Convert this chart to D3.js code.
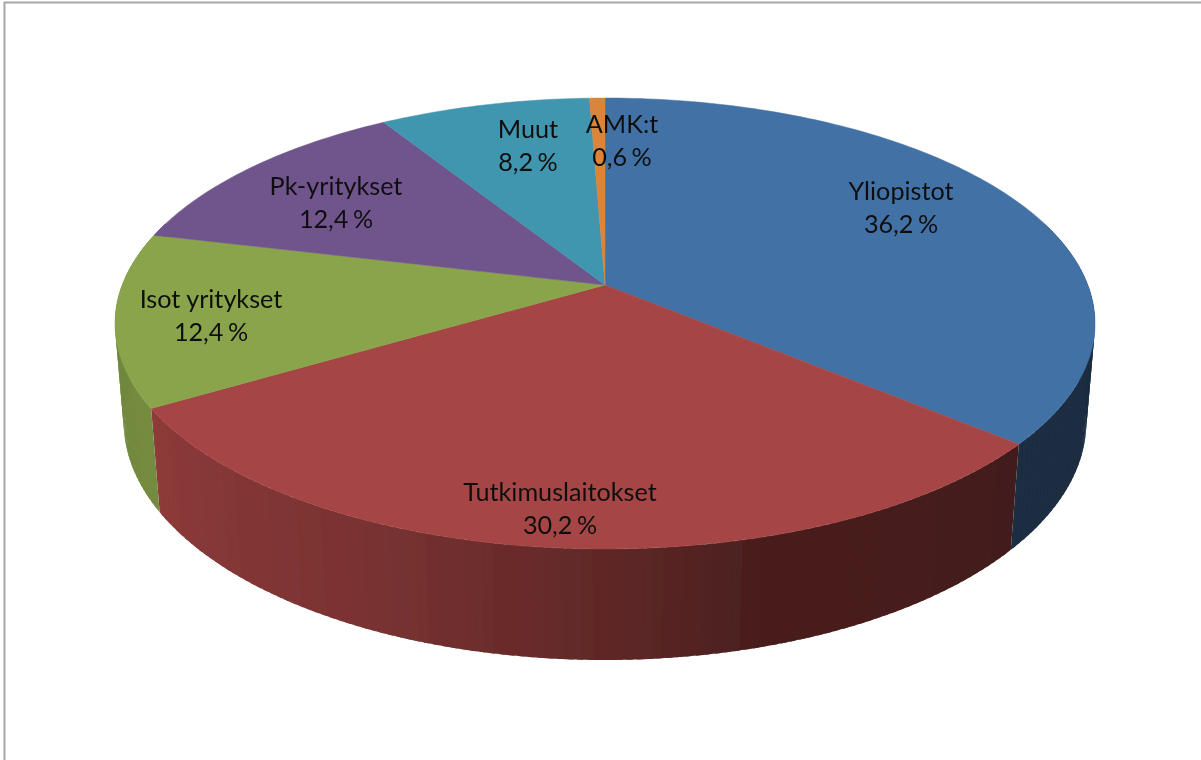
<!DOCTYPE html>
<html>
<head>
<meta charset="utf-8">
<script src="https://d3js.org/d3.v7.min.js"></script>
<style>
html, body { margin: 0; padding: 0; background: #fff; }
svg { display: block; }
text { font-family: Lato, "Open Sans", sans-serif; font-size: 25.2px; fill: #111; text-anchor: middle; }
.pct { word-spacing: -2px; }
</style>
</head>
<body>
<div id="canvas"></div>
<script>
var categories = ["Yliopistot", "Tutkimuslaitokset", "Isot yritykset", "Pk-yritykset", "Muut", "AMK:t"];
var shares = [36.2, 30.2, 12.4, 12.4, 8.2, 0.6];
var colors = ["#4371a6", "#a64544", "#89a44b", "#70558c", "#3f96ae", "#d9853a"];
// label centres, placed by hand like the original
var labelX = [901, 560, 211, 336, 528, 622];
var labelY = [200, 501, 308, 195, 138, 133];

var width = 1201, height = 760;
var cx = 605, cy = 285;
var rx = 482.8, ry = 218.9, persp = 0.1707; // top face of the disc
var depth = 98.6, perspDepth = 0.0175;      // side wall

// angle from 12 o'clock, h = 0 top face, h = 1 bottom rim
function project(a, h) {
    var u = Math.sin(a), v = -Math.cos(a);
    var w = 1 - persp * v + perspDepth * h;
    return [cx + rx * u / w, cy + (ry * v + depth * h) / w];
}

// how much the wall darkens, going round from right to left
var shade = d3.scaleLinear()
    .domain([90, 130, 165, 180, 205, 239, 270])
    .range([0.40, 0.40, 0.45, 0.58, 0.73, 0.85, 0.82])
    .clamp(true);

var svg = d3.select("#canvas").append("svg")
    .attr("width", width)
    .attr("height", height);

var defs = svg.append("defs");
defs.append("filter").attr("id", "soft")
    .attr("x", "-5%").attr("y", "-5%").attr("width", "110%").attr("height", "110%")
    .append("feGaussianBlur").attr("stdDeviation", 0.5);

svg.append("path")
    .attr("d", "M4.5 " + height + "V2.5H" + width)
    .attr("fill", "none")
    .attr("stroke", "#a6a6a6")
    .attr("stroke-width", 2);

var pie = d3.pie().sort(null).value(function(d) { return d; });
var slices = pie(shares);
var line = d3.line();
var step = Math.PI / 180;

function arcPoints(a0, a1, h) {
    var n = Math.max(2, Math.ceil((a1 - a0) / step));
    return d3.range(n + 1).map(function(i) {
        return project(a0 + (a1 - a0) * i / n, h);
    });
}

var chart = svg.append("g").attr("filter", "url(#soft)");

// side wall, narrow strips so the shading runs round the rim.
// each strip runs a bit past its end and the next one paints over that, no seams
var walls = chart.append("g");
slices.forEach(function(s, i) {
    var a0 = Math.max(s.startAngle, Math.PI / 2 - 0.3);
    var a1 = Math.min(s.endAngle, 3 * Math.PI / 2 + 0.3);
    if (a1 <= a0) return;
    var n = Math.ceil((a1 - a0) / step);
    d3.range(n).forEach(function(k) {
        var b0 = a0 + (a1 - a0) * k / n, b1 = a0 + (a1 - a0) * (k + 1) / n;
        var mid = (b0 + b1) / 2 * 180 / Math.PI;
        var c = d3.rgb(colors[i]);
        var f = shade(mid);
        var end = k < n - 1 ? b1 + step * 0.6 : b1;
        walls.append("path")
            .attr("d", line(arcPoints(b0, end, 0).concat(arcPoints(b0, end, 1).reverse())) + "Z")
            .attr("fill", d3.rgb(c.r * f, c.g * f, c.b * f).formatHex());
    });
});

// top face
chart.append("g").selectAll("path")
    .data(slices)
    .join("path")
    .attr("fill", function(d, i) { return colors[i]; })
    .attr("stroke", function(d, i) { return colors[i]; })
    .attr("stroke-width", 0.5)
    .attr("d", function(d) {
        return line([[cx, cy]].concat(arcPoints(d.startAngle, d.endAngle, 0))) + "Z";
    });

var fmt = d3.format(".1f");
var labels = chart.append("g").selectAll("text")
    .data(categories)
    .join("text")
    .attr("x", function(d, i) { return labelX[i]; })
    .attr("y", function(d, i) { return labelY[i]; });
labels.append("tspan")
    .attr("x", function(d, i) { return labelX[i]; })
    .text(function(d) { return d; });
labels.append("tspan")
    .attr("class", "pct")
    .attr("x", function(d, i) { return labelX[i]; })
    .attr("dy", 32.5)
    .text(function(d, i) { return fmt(shares[i]).replace(".", ",") + " %"; });
</script>
</body>
</html>
